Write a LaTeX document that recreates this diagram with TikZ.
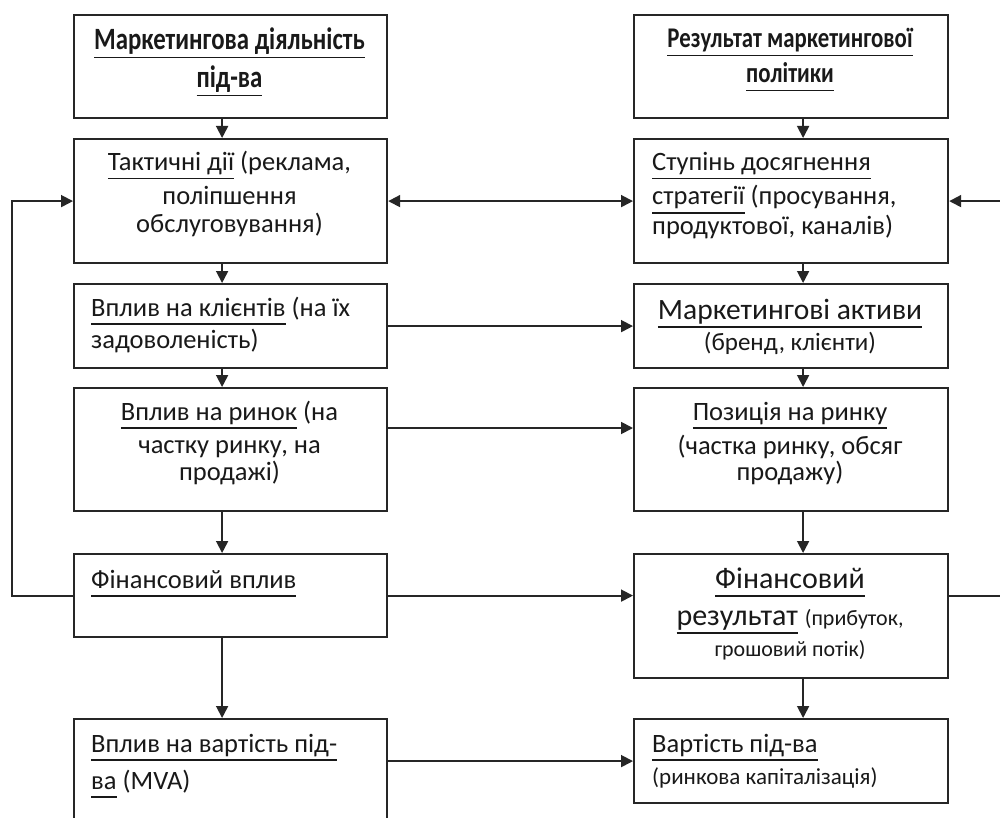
\documentclass[tikz,border=0pt]{standalone}
\usepackage{fontspec}
\setmainfont{Carlito}
\newfontfamily\headfont{Carlito}[FakeStretch=0.8]
\newcommand{\undl}[1]{\leavevmode\setbox0\hbox{#1}\rlap{\smash{\rule[-8.5pt]{\wd0}{1.8pt}}}\box0\relax}
\usetikzlibrary{arrows.meta,calc}
\begin{document}
\begin{tikzpicture}[x=1pt,y=-1pt,
  box/.style={draw=black!85, line width=2.2pt, minimum width=313pt, inner sep=0pt, anchor=north west},
  conn/.style={draw=black!85, line width=1.8pt, -{Triangle[length=12pt,width=12pt]}},
  dconn/.style={draw=black!85, line width=1.8pt, {Triangle[length=12pt,width=12pt]}-{Triangle[length=12pt,width=12pt]}},
  ln/.style={inner sep=0pt, anchor=base, text=black!90, font=\fontsize{26.5}{30}\selectfont},
  lnw/.style={ln, anchor=base west},
  hd/.style={ln, font=\headfont\bfseries\fontsize{31}{34}\selectfont},
]
\useasboundingbox (0,0) rectangle (1000,818);
\clip (0,0) rectangle (1000,818);
\fill[white] (0,0) rectangle (1000,818);

% left column boxes
\node[box, minimum height=103pt] (L1) at (73,14) {};
\node[box, minimum height=124pt] (L2) at (73,138) {};
\node[box, minimum height=84pt]  (L3) at (73,283) {};
\node[box, minimum height=123pt] (L4) at (73,387) {};
\node[box, minimum height=83pt]  (L5) at (73,553) {};
\node[box, minimum height=130pt] (L6) at (73,718) {};
% right column boxes
\node[box, minimum width=314pt, minimum height=103pt] (R1) at (633,14) {};
\node[box, minimum width=314pt, minimum height=124pt] (R2) at (633,138) {};
\node[box, minimum width=314pt, minimum height=84pt]  (R3) at (633,283) {};
\node[box, minimum width=314pt, minimum height=123pt] (R4) at (633,387) {};
\node[box, minimum width=314pt, minimum height=124pt] (R5) at (633,553) {};
\node[box, minimum width=314pt, minimum height=84pt]  (R6) at (633,718) {};

% texts left
\node[hd] (tL1a) at (229.5,50) {\undl{Маркетингова діяльність}};
\node[hd] (tL1b) at (229.5,88) {\undl{під-ва}};
\node[ln] (tL2a) at (229.5,171) {\undl{Тактичні дії} (реклама,};
\node[ln] (tL2b) at (229.5,205) {поліпшення};
\node[ln] (tL2c) at (229.5,233) {обслуговування)};
\node[lnw] (tL3a) at (91,316) {\undl{Вплив на клієнтів} (на їх};
\node[lnw] (tL3b) at (91,348) {задоволеність)};
\node[ln] (tL4a) at (229.5,420) {\undl{Вплив на ринок} (на};
\node[ln] (tL4b) at (229.5,453) {частку ринку, на};
\node[ln] (tL4c) at (229.5,480) {продажі)};
\node[lnw] (tL5a) at (91,588) {\undl{Фінансовий вплив}};
\node[lnw] (tL6a) at (91,752) {\undl{Вплив на вартість під-}};
\node[lnw] (tL6b) at (91,789) {\undl{ва} (MVA)};

% texts right
\node[hd, font=\headfont\bfseries\fontsize{28.5}{32}\selectfont] (tR1a) at (790,48) {\undl{Результат маркетингової}};
\node[hd, font=\headfont\bfseries\fontsize{28.5}{32}\selectfont] (tR1b) at (790,83) {\undl{політики}};
\node[lnw] (tR2a) at (652,171) {\undl{Ступінь досягнення}};
\node[lnw] (tR2b) at (652,205) {\undl{стратегії} (просування,};
\node[lnw] (tR2c) at (652,235) {продуктової, каналів)};
\node[ln, font=\fontsize{29.5}{32}\selectfont] (tR3a) at (790,319) {\undl{Маркетингові активи}};
\node[ln, font=\fontsize{25}{30}\selectfont] (tR3b) at (790,350) {(бренд, клієнти)};
\node[ln] (tR4a) at (790,420) {\undl{Позиція на ринку}};
\node[ln] (tR4b) at (790,454) {(частка ринку, обсяг};
\node[ln] (tR4c) at (790,480) {продажу)};
\node[ln, font=\fontsize{30}{34}\selectfont] (tR5a) at (790,588) {\undl{Фінансовий}};
\node[ln, font=\fontsize{30}{34}\selectfont] (tR5b) at (790,625) {\undl{результат} {\fontsize{22}{26}\selectfont(прибуток,}};
\node[ln, font=\fontsize{22}{26}\selectfont] (tR5c) at (790,656) {грошовий потік)};
\node[lnw] (tR6a) at (652,752) {\undl{Вартість під-ва}};
\node[lnw, font=\fontsize{23}{28}\selectfont] (tR6b) at (652,784) {(ринкова капіталізація)};

% vertical arrows left
\foreach \a/\b in {L1/L2,L2/L3,L3/L4,L4/L5,L5/L6}{
  \draw[conn] ($(\a.south)+(-8.5,0)$) -- ($(\b.north)+(-8.5,0)$);
}
% vertical arrows right
\foreach \a/\b in {R1/R2,R2/R3,R3/R4,R4/R5,R5/R6}{
  \draw[conn] ($(\a.south)+(12,0)$) -- ($(\b.north)+(12,0)$);
}

% horizontal connectors
\draw[dconn] (L2.east) -- (R2.west);
\draw[conn] (L3.east) -- (L3.east -| R3.west);
\coordinate (c4) at ($(L4.north east)+(0,41)$);
\draw[conn] (c4) -- (c4 -| R4.west);
\draw[conn] (L5.east) -- (L5.east -| R5.west);
\draw[conn] (R6.west -| L6.east) -- (R6.west);

% feedback loops
\draw[conn] (L5.west) -- ++(-61,0) |- (L2.west);
\draw[conn] (L5.east -| R5.east) -- ++(80,0) |- (R2.east);
\end{tikzpicture}
\end{document}
